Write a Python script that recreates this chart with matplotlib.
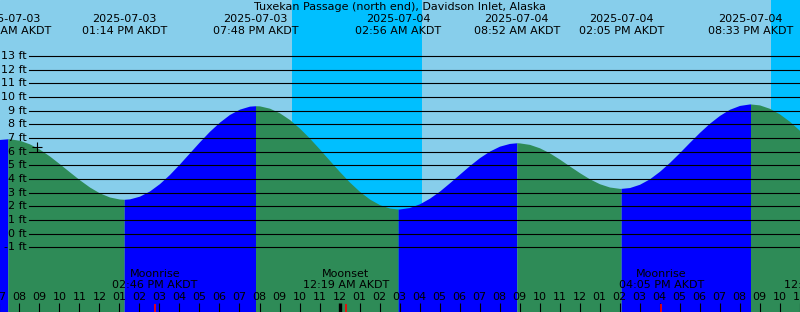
import datetime as dt
import matplotlib
matplotlib.use("Agg")
import matplotlib.pyplot as plt
import matplotlib.transforms as mtransforms

### Station and data (times AKDT, heights ft)
title = "Tuxekan Passage (north end), Davidson Inlet, Alaska"
day0 = dt.datetime(2025, 7, 3)

# half-hourly heights, hours counted from 2025-07-03 00:00
hours = [7 + 0.5 * i for i in range(83)]
tide_ft = [6.90, 6.95, 6.84, 6.58, 6.19, 5.69, 5.12, 4.53, 3.95, 3.42,
           2.99, 2.69, 2.54, 2.55, 2.75, 3.13, 3.67, 4.34, 5.11, 5.92,
           6.73, 7.50, 8.17, 8.73, 9.12, 9.34, 9.36, 9.19, 8.85, 8.36,
           7.73, 7.00, 6.20, 5.37, 4.55, 3.78, 3.10, 2.54, 2.13, 1.88,
           1.81, 1.92, 2.19, 2.60, 3.12, 3.73, 4.36, 4.99, 5.57, 6.05,
           6.41, 6.61, 6.65, 6.54, 6.29, 5.92, 5.46, 4.96, 4.47, 4.02,
           3.66, 3.42, 3.32, 3.38, 3.62, 4.02, 4.57, 5.22, 5.94, 6.69,
           7.42, 8.09, 8.66, 9.11, 9.39, 9.50, 9.43, 9.18, 8.77, 8.23,
           7.57, 6.82, 6.04]

# highs and lows
ext_stamps = ["2025-07-03 07:25 AM", "2025-07-03 01:14 PM", "2025-07-03 07:48 PM",
              "2025-07-04 02:56 AM", "2025-07-04 08:52 AM", "2025-07-04 02:05 PM",
              "2025-07-04 08:33 PM"]
ext_ft = [6.95, 2.52, 9.37, 1.81, 6.66, 3.32, 9.50]

moon_stamps = ["2025-07-03 02:46 PM", "2025-07-04 12:19 AM",
               "2025-07-04 04:05 PM", "2025-07-05 12:24 AM"]
moon_kind = ["Moonrise", "Moonset", "Moonrise", "Moonset"]

# sunset / sunrise pairs
night_stamps = [("2025-07-03 09:37 PM", "2025-07-04 04:07 AM"),
                ("2025-07-04 09:35 PM", "2025-07-05 04:09 AM")]

now_stamp = "2025-07-03 08:53 AM"
now_ft = 6.33

ft_levels = list(range(-1, 14))

###Colours
day_col = "#87CEEB"
night_col = "#00BFFF"
rise_col = "#0000FF"
fall_col = "#2E8B57"

W, H = 800, 312
x_start = 7.025
ft_top, ft_bot = 17.11, -5.73
fs = 8


def to_h(stamp):
    t = dt.datetime.strptime(stamp, "%Y-%m-%d %I:%M %p")
    return (t - day0).total_seconds() / 3600.0


def yfrac(py):
    return 1 - py / H


ext_h = [to_h(s) for s in ext_stamps]

fig = plt.figure(figsize=(W / 100, H / 100), dpi=100)
ax = fig.add_axes([0, 0, 1, 1])
ax.set_xlim(x_start, x_start + W / 20)
ax.set_ylim(ft_bot, ft_top)
ax.set_axis_off()
ax.add_patch(plt.Rectangle((0, 0), 1, 1, transform=ax.transAxes, color=day_col, zorder=0))
blend = mtransforms.blended_transform_factory(ax.transData, ax.transAxes)

for a, b in night_stamps:
    ax.axvspan(to_h(a), to_h(b), color=night_col, lw=0, zorder=1)

###Tide fill, blue while rising and green while falling
pts = sorted(zip(hours + ext_h, tide_ft + ext_ft))
bounds = [hours[0]] + ext_h + [hours[-1]]
for a, b in zip(bounds[:-1], bounds[1:]):
    seg = [p for p in pts if a <= p[0] <= b]
    ts = [p[0] for p in seg]
    hs = [p[1] for p in seg]
    col = rise_col if hs[-1] > hs[0] else fall_col
    ax.fill_between(ts, hs, ft_bot - 1, color=col, lw=0, zorder=2)

###Level lines and labels
for lv in ft_levels:
    ax.axhline(lv, xmin=29 / W, xmax=1, color="black", lw=0.8, zorder=3)
    ax.text(27 / W, lv, "%d ft" % lv, transform=mtransforms.blended_transform_factory(ax.transAxes, ax.transData),
            ha="right", va="center", fontsize=fs, zorder=4)

###Header
ax.text(0.5, yfrac(7), title, transform=ax.transAxes, ha="center", va="center", fontsize=fs, zorder=5)
for h, s in zip(ext_h, ext_stamps):
    t = dt.datetime.strptime(s, "%Y-%m-%d %I:%M %p")
    ax.text(h, yfrac(19.5), t.strftime("%Y-%m-%d"), transform=blend, ha="center", va="center",
            fontsize=fs, zorder=5, clip_on=False)
    ax.text(h, yfrac(31.3), t.strftime("%I:%M %p") + " AKDT", transform=blend, ha="center",
            va="center", fontsize=fs, zorder=5, clip_on=False)

###Hour ticks along the bottom
for h in range(int(x_start), int(x_start + W / 20) + 1):
    clock = h % 12 or 12
    ax.text(h, yfrac(297.5), "%02d" % clock, transform=blend, ha="center", va="center",
            fontsize=fs, zorder=5)
    wide = 2.4 if h % 24 == 0 else 0.8
    ax.vlines(h, 0, yfrac(303), transform=blend, color="black", lw=wide, zorder=5)

###Moon events
for s, kind in zip(moon_stamps, moon_kind):
    h = to_h(s)
    t = dt.datetime.strptime(s, "%Y-%m-%d %I:%M %p")
    ax.text(h, yfrac(274), kind, transform=blend, ha="center", va="center", fontsize=fs, zorder=5)
    ax.text(h, yfrac(285.3), t.strftime("%I:%M %p") + " AKDT", transform=blend, ha="center",
            va="center", fontsize=fs, zorder=5)
    ax.vlines(h, 0, yfrac(304), transform=blend, color="red", lw=1.2, zorder=6)

###Current time marker
ax.plot([to_h(now_stamp)], [now_ft], marker="+", color="black", ms=6.5, mew=0.8, zorder=7)

fig.savefig("out.png", dpi=100)
